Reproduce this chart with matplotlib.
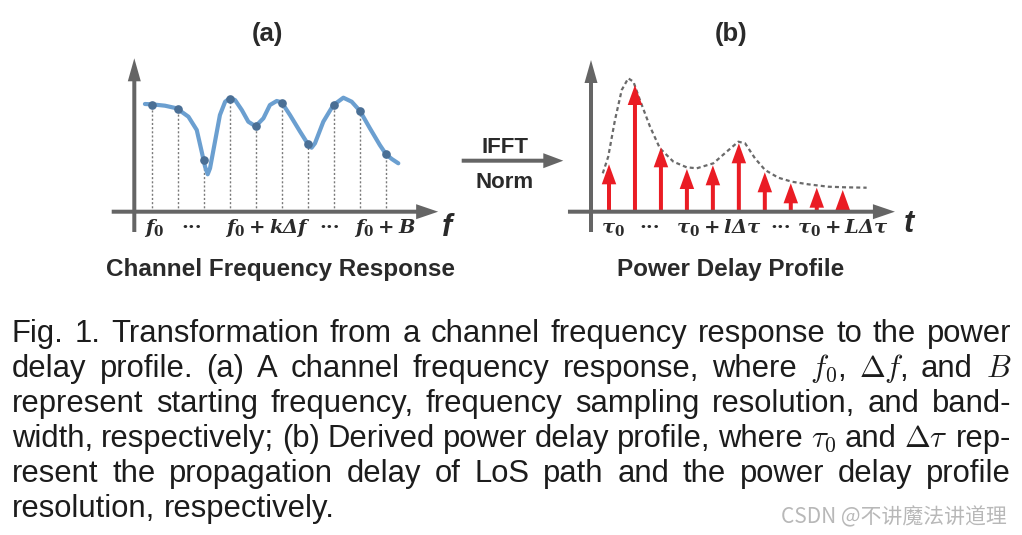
import numpy as np
import matplotlib.pyplot as plt

plt.rcParams['font.family'] = ['Liberation Sans', 'DejaVu Sans']
plt.rcParams['mathtext.rm'] = 'DejaVu Serif:bold'
plt.rcParams['mathtext.it'] = 'DejaVu Serif:italic:bold'
plt.rcParams['mathtext.sf'] = 'DejaVu Serif:italic:bold'

# --- (a) channel frequency response: sampled points and the traced curve ---
cfr_idx = np.arange(10)
cfr_amp = [10.7, 10.3, 5.2, 11.3, 8.6, 10.9, 6.8, 10.7, 10.1, 5.8]
curve_x = [-0.26, 0.0, 0.51, 0.96, 1.41, 1.73, 1.92, 2.05, 2.15, 2.24, 2.43,
           2.62, 2.82, 3.0, 3.2, 3.46, 3.71, 3.99, 4.29, 4.54, 4.8, 4.99,
           5.31, 5.7, 5.99, 6.14, 6.27, 6.59, 6.97, 7.36, 7.68, 8.0, 8.38,
           8.76, 9.0, 9.22, 9.47]
curve_y = [10.77, 10.74, 10.6, 10.34, 9.5, 8.17, 6.0, 4.5, 3.74, 4.34, 7.0,
           9.67, 11.0, 11.34, 11.17, 10.17, 9.0, 8.54, 9.34, 10.67, 11.07,
           10.94, 9.67, 8.0, 6.8, 6.4, 6.84, 9.0, 10.64, 11.4, 11.0, 10.07,
           8.34, 6.67, 5.74, 5.27, 4.84]

# --- (b) power delay profile: taps and dashed envelope ---
pdp_idx = np.arange(10)
pdp_amp = [4.74, 12.67, 6.44, 4.27, 4.64, 6.84, 3.94, 2.84, 2.4, 2.17]
env_x = [-0.24, -0.03, 0.23, 0.49, 0.74, 0.94, 1.19, 1.58, 1.96, 2.48, 2.99,
         3.38, 4.02, 4.53, 4.98, 5.24, 5.62, 6.01, 6.52, 7.04, 7.67, 8.44,
         9.09, 9.92]
env_y = [3.84, 5.5, 9.17, 12.17, 13.34, 13.0, 11.17, 8.5, 6.34, 5.0, 4.44,
         4.34, 4.84, 6.0, 7.0, 6.84, 5.34, 4.17, 3.4, 3.0, 2.74, 2.5, 2.44,
         2.4]

labels_a = [r'$f_0$', '···', r'$f_0 + k\mathsf{\Delta} f$', '···', r'$f_0 + B$']
labels_a_pos = [0.1, 1.54, 4.48, 6.85, 8.96]
labels_b = [r'$\tau_0$', '···', r'$\tau_0 + l\mathsf{\Delta}\tau$', '···',
            r'$\tau_0 + L\mathsf{\Delta}\tau$']
labels_b_pos = [0.15, 1.58, 4.21, 6.6, 9.0]

caption_lines = [
    'Fig. 1. Transformation from a channel frequency response to the power',
    r'delay profile. (a) A channel frequency response, where $f_0$, $\Delta f$, and $B$',
    'represent starting frequency, frequency sampling resolution, and band-',
    r'width, respectively; (b) Derived power delay profile, where $\tau_0$ and $\Delta\tau$ rep-',
    'resent the propagation delay of LoS path and the power delay profile',
    'resolution, respectively.',
]

GRAY = '#656565'
BLUE = '#6b9fd0'
DOT = '#4a6f95'
RED = '#ea1c24'
TXT = '#2a2a2a'

W, H = 1022, 535
fig = plt.figure(figsize=(W / 100, H / 100), dpi=100)

# overlay in pixel coordinates for captions and the middle arrow
ov = fig.add_axes([0, 0, 1, 1])
ov.set_xlim(0, W)
ov.set_ylim(H, 0)
ov.axis('off')


def make_panel(left_px, x0_px, dx_px):
    # axis line of the sketch sits at pixel row 211.7, 10 px per unit
    top, bottom, right = 50, 240, left_px + 360
    ax = fig.add_axes([left_px / W, (H - bottom) / H, 360 / W, (bottom - top) / H])
    ax.set_xlim((left_px - x0_px) / dx_px, (right - x0_px) / dx_px)
    ax.set_ylim((211.7 - bottom) / 10, (211.7 - top) / 10)
    ax.axis('off')
    return ax


def arrow(ax, x0, y0, x1, y1, width, head_w, head_l, color, z=3):
    # sizes in pixels, converted along the direction they lie in
    o = ax.transData.transform((0, 0))
    sx = abs(ax.transData.transform((1, 0))[0] - o[0])
    sy = abs(ax.transData.transform((0, 1))[1] - o[1])
    if x0 == x1:
        ax.arrow(x0, y0, 0, y1 - y0, width=width / sx, head_width=head_w / sx,
                 head_length=head_l / sy, length_includes_head=True,
                 color=color, lw=0, clip_on=False, zorder=z)
    else:
        ax.arrow(x0, y0, x1 - x0, 0, width=width / sy, head_width=head_w / sy,
                 head_length=head_l / sx, length_includes_head=True,
                 color=color, lw=0, clip_on=False, zorder=z)


label_kw = dict(fontsize=14, color=TXT, ha='center', va='baseline',
                math_fontfamily='custom')
dots_kw = dict(fontsize=14, color=TXT, ha='center', va='baseline',
               family='DejaVu Serif', weight='bold')

# --- panel (a) ---
axa = make_panel(100, 151.7, 26.04)
axa.vlines(cfr_idx, 0, cfr_amp, colors='#7a7a7a', lw=1.0,
           linestyles=(0, (1.5, 1.5)), zorder=1)
axa.plot(curve_x, curve_y, color=BLUE, lw=3.0, solid_capstyle='round',
         solid_joinstyle='round', zorder=2)
axa.plot(cfr_idx, cfr_amp, 'o', ms=5.2, color=DOT, zorder=3)
arrow(axa, -0.668, -2.03, -0.668, 15.34, 4, 13, 23, GRAY, z=4)
arrow(axa, -1.536, 0, 11.0, 0, 4, 15, 22, GRAY, z=4)
for s, x in zip(labels_a, labels_a_pos):
    kw = dots_kw if s == '···' else label_kw
    axa.text(x, -2.1, s, **kw)

# --- panel (b) ---
axb = make_panel(560, 609, 25.97)
axb.plot(env_x, env_y, color='#6a6a6a', lw=1.6, linestyle=(0, (1.8, 1.4)),
         zorder=2)
for x, a in zip(pdp_idx, pdp_amp):
    arrow(axb, x, 0, x, a, 4, 14.5, 20, RED, z=3)
arrow(axb, -0.693, -2.03, -0.693, 15.17, 4, 13, 23, GRAY, z=4)
arrow(axb, -1.58, 0, 11.01, 0, 4, 15, 22, GRAY, z=4)
for s, x in zip(labels_b, labels_b_pos):
    kw = dots_kw if s == '···' else label_kw
    axb.text(x, -2.1, s, **kw)

# --- titles, axis letters and the IFFT/Norm arrow ---
ov.text(267, 41, '(a)', fontsize=18.5, weight='bold', color=TXT, ha='center', va='baseline')
ov.text(731, 41, '(b)', fontsize=18.5, weight='bold', color=TXT, ha='center', va='baseline')
ov.text(281, 276, 'Channel Frequency Response', fontsize=17.5, weight='bold',
        color=TXT, ha='center', va='baseline')
ov.text(731, 276, 'Power Delay Profile', fontsize=17.5, weight='bold',
        color=TXT, ha='center', va='baseline')
ov.text(447, 236, 'f', fontsize=22, weight='bold', style='italic', color=TXT,
        ha='center', va='baseline')
ov.text(909, 232, 't', fontsize=22, weight='bold', style='italic', color=TXT,
        ha='center', va='baseline')
ov.arrow(461.7, 160.7, 101.6, 0, width=4, head_width=15, head_length=20,
         length_includes_head=True, color=GRAY, lw=0)
ov.text(505, 153, 'IFFT', fontsize=16, weight='bold', color=TXT, ha='center', va='baseline')
ov.text(505, 188, 'Norm', fontsize=16, weight='bold', color=TXT, ha='center', va='baseline')


# --- justified caption ---
def split_words(line):
    words, cur, in_math = [], '', False
    for ch in line:
        if ch == '$':
            in_math = not in_math
        if ch == ' ' and not in_math:
            if cur:
                words.append(cur)
            cur = ''
        else:
            cur += ch
    if cur:
        words.append(cur)
    return words


renderer = fig.canvas.get_renderer()
cap_size = 22.3
left, right = 12, 1011
for i, line in enumerate(caption_lines):
    y = 342.3 + 34.9 * i
    words = split_words(line)
    texts = [ov.text(0, y, w, fontsize=cap_size, color='#1c1c1c', ha='left',
                     va='baseline', math_fontfamily='cm') for w in words]
    widths = [t.get_window_extent(renderer).width for t in texts]
    if i < len(caption_lines) - 1:
        gap = (right - left - sum(widths)) / (len(words) - 1)
    else:
        gap = cap_size * 100 / 72 * 0.278
    x = left
    for t, w in zip(texts, widths):
        t.set_x(x)
        x += w + gap

ov.text(1007, 517, 'CSDN @不讲魔法讲道理', fontsize=15, color='#b8b8b8',
        family=['Noto Sans CJK SC', 'DejaVu Sans'], ha='right', va='center')

fig.savefig('out.png', dpi=100)
